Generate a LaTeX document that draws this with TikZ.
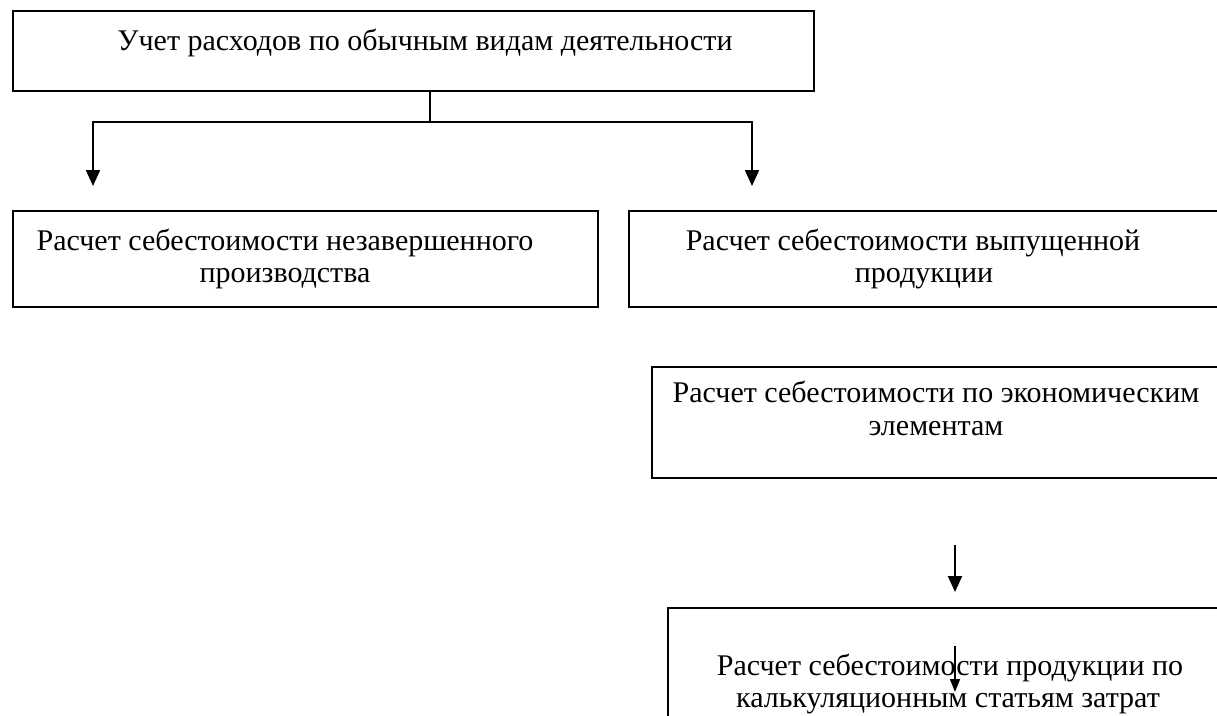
\documentclass[tikz,border=0pt]{standalone}
\usepackage{fontspec}
\setmainfont{Liberation Serif}
\usetikzlibrary{arrows.meta}
\tikzset{
  box/.style={draw=black, line width=2.2pt, inner sep=0pt, anchor=north west},
  txt/.style={anchor=base, inner sep=0pt, font=\fontsize{30}{32}\selectfont},
  arr/.style={line width=2pt, -{Triangle[length=16pt,width=14pt]}},
  thinarr/.style={line width=1.6pt, -{Triangle[length=13pt,width=10pt]}},
  conn/.style={line width=2pt}
}
\begin{document}
\begin{tikzpicture}[x=1pt,y=-1pt]
\useasboundingbox (0,0) rectangle (1217,715);
\clip (0,0) rectangle (1217,715);
% boxes
\node[box, minimum width=801pt, minimum height=80pt] (top) at (12,10) {};
\node[box, minimum width=585pt, minimum height=96pt] (b2) at (12,210) {};
\node[box, minimum width=612pt, minimum height=96pt] (b3) at (628,210) {};
\node[box, minimum width=589pt, minimum height=111pt] (b4) at (651,366) {};
\node[box, minimum width=573pt, minimum height=133pt] (b5) at (667,607) {};
% texts
\node[txt] (t1) at (425,50) {Учет расходов по обычным видам деятельности};
\node[txt] (t2a) at (285,250) {Расчет себестоимости незавершенного};
\node[txt] (t2b) at (285,282) {производства};
\node[txt] (t3a) at (913,250) {Расчет себестоимости выпущенной};
\node[txt] (t3b) at (924,282) {продукции};
\node[txt] (t4a) at (936,402) {Расчет себестоимости по экономическим};
\node[txt] (t4b) at (936,435) {элементам};
\node[txt] (t5a) at (950,675) {Расчет себестоимости продукции по};
\node[txt] (t5b) at (948,707) {калькуляционным статьям затрат};
% connector coordinates
\coordinate (j) at (430,122);
\coordinate (lt) at (93,186);
\coordinate (rt) at (752,186);
\coordinate (a) at (955,545);
\coordinate (b) at (955,592);
\coordinate (c) at (955,646);
\coordinate (d) at (955,692);
% connectors
\draw[conn] (top.south -| j) -- (j);
\draw[arr] (j) -| (lt);
\draw[arr] (j) -| (rt);
\draw[arr] (a) -- (b);
\draw[thinarr] (c) -- (d);
\end{tikzpicture}
\end{document}
